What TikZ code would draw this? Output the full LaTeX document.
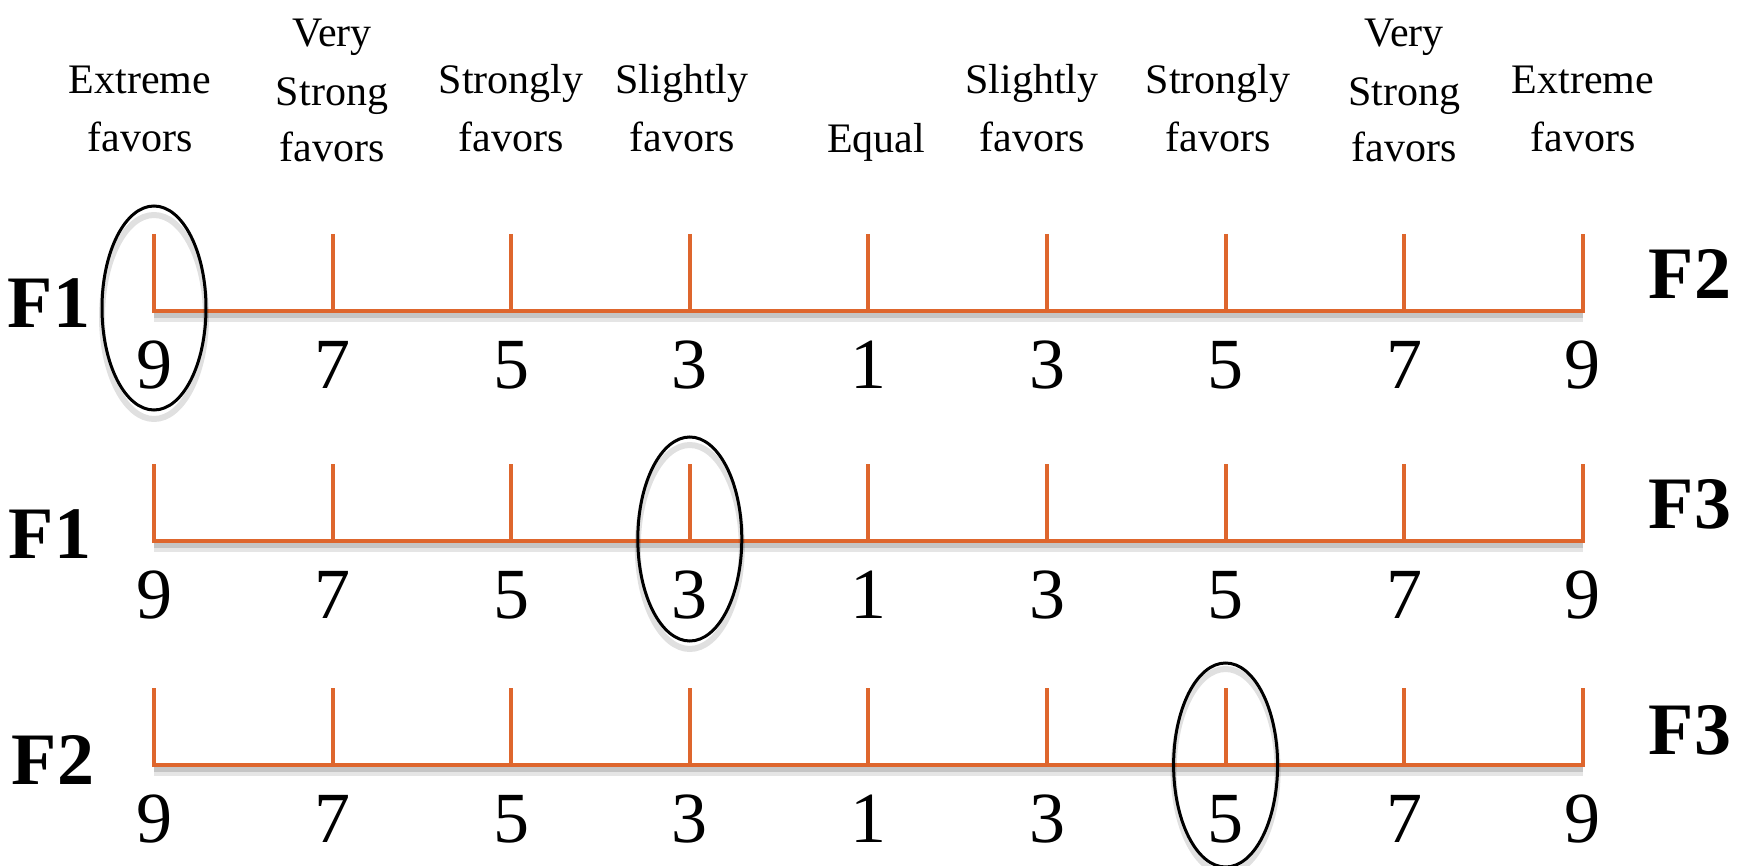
\documentclass[tikz,border=0pt]{standalone}
\usepackage{fontspec}
\setmainfont{Liberation Serif}
\usetikzlibrary{shapes.geometric}
\definecolor{scaleorange}{HTML}{DE662D}
\begin{document}
\begin{tikzpicture}[x=0.5pt,y=-0.5pt,
  scaleline/.style={draw=scaleorange,line width=2pt,line join=miter},
  shadowwide/.style={draw=black,line width=6pt,opacity=0.10},
  shadownarrow/.style={draw=black,line width=3pt,opacity=0.14},
  toplabel/.style={font=\fontsize{21}{25}\selectfont,anchor=base,inner sep=0pt},
  num/.style={font=\fontsize{36}{40}\selectfont,anchor=base,inner sep=0pt},
  flabel/.style={font=\fontsize{37}{40}\selectfont\bfseries,anchor=base,inner sep=0pt},
  choice/.style={draw=black,line width=1.5pt},
  choiceshadow/.style={draw=black,line width=3pt,opacity=0.12}
]
\useasboundingbox (0,0) rectangle (1747,866);

% coordinates and numbers
\foreach \r/\ly in {1/311,2/541,3/765}{
  \foreach \xx/\d [count=\c] in {154/9,332.6/7,511.2/5,689.8/3,868.4/1,1047/3,1225.6/5,1404.2/7,1582.8/9}{
    \coordinate (b\r-\c) at (\xx,\ly);
    \coordinate (t\r-\c) at (\xx,\ly-77);
    \node[num] (n\r-\c) at (\xx,\ly+77) {\d};
  }
}

% scales
\foreach \r in {1,2,3}{
  \draw[shadowwide] ([yshift=-2.5pt]b\r-1) -- ([yshift=-2.5pt]b\r-9);
  \draw[shadownarrow] ([yshift=-2pt]b\r-1) -- ([yshift=-2pt]b\r-9);
  \draw[scaleline] (t\r-1) -- (b\r-1) -- (b\r-9) -- (t\r-9);
  \foreach \c in {2,...,8}{
    \draw[scaleline] (t\r-\c) -- (b\r-\c);
  }
}

% chosen values
\draw[choiceshadow] ([yshift=-3pt]b1-1) ellipse [x radius=26pt, y radius=51pt];
\draw[choice] ([yshift=1.5pt]b1-1) ellipse [x radius=26pt, y radius=51pt];
\draw[choiceshadow] ([yshift=-3pt]b2-4) ellipse [x radius=26pt, y radius=51pt];
\draw[choice] ([yshift=1pt]b2-4) ellipse [x radius=26pt, y radius=51pt];
\draw[choiceshadow] ([yshift=-3pt]b3-7) ellipse [x radius=26pt, y radius=51pt];
\draw[choice] (b3-7) ellipse [x radius=26pt, y radius=51pt];

% factor labels
\node[flabel] (L1) at (49,328) {F1};
\node[flabel] (L2) at (50,558) {F1};
\node[flabel] (L3) at (53,784) {F2};
\node[flabel] (R1) at (1690,299) {F2};
\node[flabel] (R2) at (1690,528) {F3};
\node[flabel] (R3) at (1690,754) {F3};

% top labels
\node[toplabel] (h1a) at (140,94) {Extreme};
\node[toplabel] (h1b) at (140,152) {favors};
\node[toplabel] (h2a) at (332,47) {Very};
\node[toplabel] (h2b) at (332,106) {Strong};
\node[toplabel] (h2c) at (332,162) {favors};
\node[toplabel] (h3a) at (511,94) {Strongly};
\node[toplabel] (h3b) at (511,152) {favors};
\node[toplabel] (h4a) at (682,94) {Slightly};
\node[toplabel] (h4b) at (682,152) {favors};
\node[toplabel] (h5) at (876,153) {Equal};
\node[toplabel] (h6a) at (1032,94) {Slightly};
\node[toplabel] (h6b) at (1032,152) {favors};
\node[toplabel] (h7a) at (1218,94) {Strongly};
\node[toplabel] (h7b) at (1218,152) {favors};
\node[toplabel] (h8a) at (1404,47) {Very};
\node[toplabel] (h8b) at (1404,106) {Strong};
\node[toplabel] (h8c) at (1404,162) {favors};
\node[toplabel] (h9a) at (1583,94) {Extreme};
\node[toplabel] (h9b) at (1583,152) {favors};
\end{tikzpicture}
\end{document}
